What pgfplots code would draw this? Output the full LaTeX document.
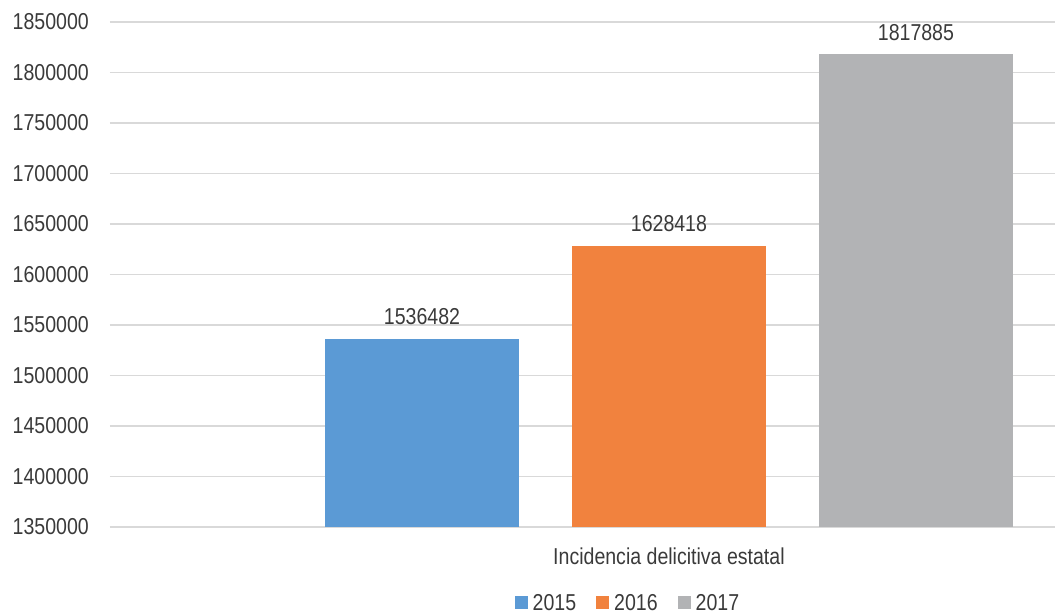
\documentclass[border=0pt]{standalone}
\usepackage{fontspec}
\setmainfont{Liberation Sans}[FakeStretch=0.85]
\usepackage{pgfplots}
\pgfplotsset{compat=1.18}
\definecolor{cblue}{HTML}{5B9AD5}
\definecolor{corange}{HTML}{F1823E}
\definecolor{cgray}{HTML}{B2B3B5}
\definecolor{gridgray}{HTML}{D9D9D9}
\definecolor{textgray}{HTML}{3A3A3A}
\newcommand{\lblfont}{\fontsize{23}{23}\selectfont}
\begin{document}
\begin{tikzpicture}[x=1pt,y=1pt]
\useasboundingbox (0,0) rectangle (1055,615);
\begin{axis}[
  at={(110pt,88pt)}, anchor=south west,
  scale only axis, width=945pt, height=505pt,
  xmin=-1.263, xmax=2.563, ymin=1350000, ymax=1850000,
  ytick={1350000,1400000,...,1850000},
  scaled y ticks=false,
  /pgf/number format/.cd, fixed, 1000 sep={}, assume math mode=true, /pgfplots/.cd,
  ymajorgrids, grid style={draw=gridgray, line width=1.5pt},
  axis line style={draw=none},
  major tick length=0pt, tick style={draw=none},
  xtick={1}, xticklabels={Incidencia delicitiva estatal},
  tick label style={font=\lblfont, text=textgray, inner sep=0pt},
  yticklabel style={anchor=east, xshift=-21pt},
  xticklabel style={anchor=north, yshift=-21pt},
  ybar, bar width=0.785, bar shift=0pt,
  point meta=explicit symbolic,
  nodes near coords,
  nodes near coords style={font=\lblfont, text=textgray, inner sep=0pt, anchor=south, yshift=14pt},
  legend columns=3,
  legend style={draw=none, fill=none, inner sep=0pt, font=\lblfont, text=textgray,
    at={(0.547,0)}, anchor=center, yshift=-76pt,
    nodes={inner sep=0pt},
    /tikz/every odd column/.append style={column sep=5pt},
    /tikz/every even column/.append style={column sep=20pt}},
  legend image code/.code={\fill[#1] (0pt,-6.5pt) rectangle (13pt,6.5pt);},
]
\addplot[fill=cblue, draw=none] coordinates {(0,1536482) [1536482]};
\addplot[fill=corange, draw=none] coordinates {(1,1628418) [1628418]};
\addplot[fill=cgray, draw=none] coordinates {(2,1817885) [1817885]};
\legend{2015,2016,2017}
\end{axis}
\end{tikzpicture}
\end{document}
